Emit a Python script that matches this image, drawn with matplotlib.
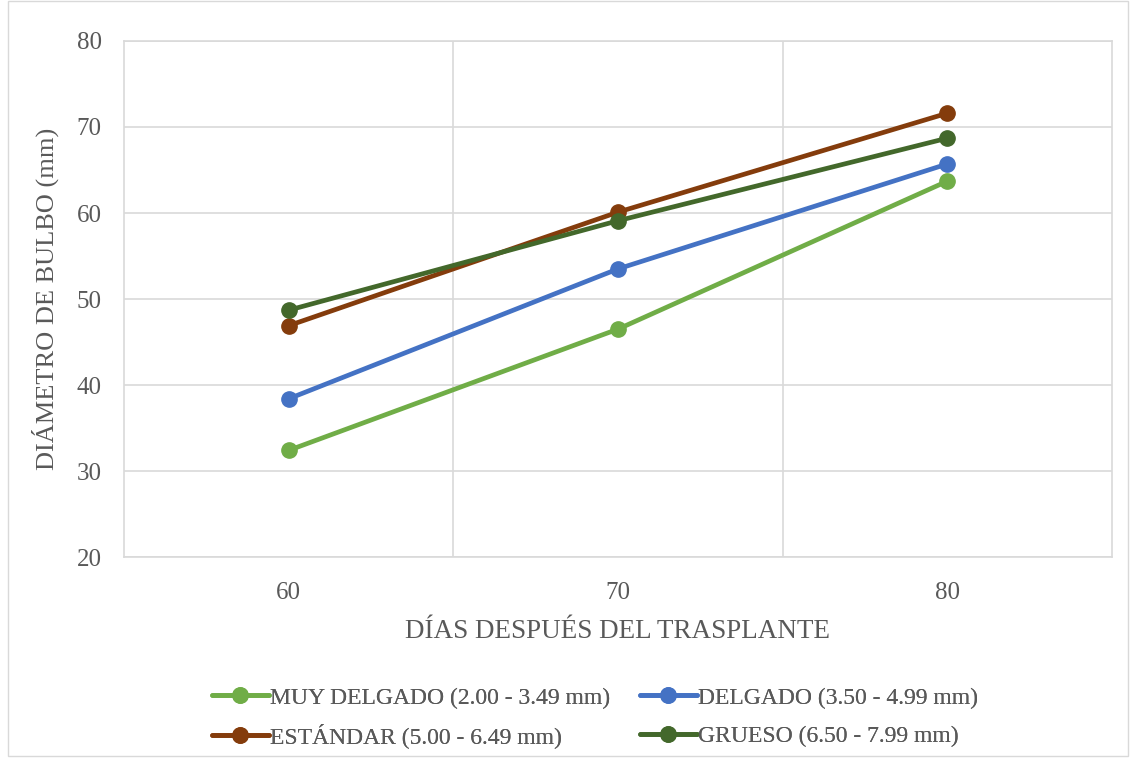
import matplotlib
matplotlib.use('Agg')
import matplotlib.pyplot as plt
import matplotlib.patches as mpatches

plt.rc('font', family='Liberation Serif')

days = ['60', '70', '80']
muy_delgado = [32.4, 46.5, 63.7]
delgado = [38.4, 53.5, 65.7]
estandar = [46.9, 60.1, 71.6]
grueso = [48.7, 59.1, 68.7]

labels = ['MUY DELGADO (2.00 - 3.49 mm)', 'DELGADO (3.50 - 4.99 mm)',
          'ESTÁNDAR (5.00 - 6.49 mm)', 'GRUESO (6.50 - 7.99 mm)']
series = [muy_delgado, delgado, estandar, grueso]
colors = ['#70AD47', '#4472C4', '#843C0C', '#43682B']
text_color = '#595959'
grid_color = '#D9D9D9'

fig = plt.figure(figsize=(11.31, 7.59), dpi=100)
fig.patches.append(mpatches.Rectangle((0.007, 0.004), 0.99, 0.995, transform=fig.transFigure,
                                      fill=False, edgecolor=grid_color, linewidth=1))
ax = fig.add_axes([0.1096, 0.2661, 0.8736, 0.6799])

x = list(range(len(days)))
lines = []
for i in range(len(series)):
    ln, = ax.plot(x, series[i], color=colors[i], linewidth=3.4, marker='o', markersize=11,
                  label=labels[i], zorder=3, solid_capstyle='round')
    lines.append(ln)

ax.set_xlim(-0.5, 2.5)
ax.set_ylim(20, 80)
ax.set_yticks(range(20, 81, 10))
ax.set_xticks(x)
ax.set_xticklabels(days)
ax.set_xticks([0.5, 1.5], minor=True)
ax.grid(True, axis='y', color=grid_color, linewidth=1.2)
ax.grid(True, axis='x', which='minor', color=grid_color, linewidth=1.2)
ax.set_axisbelow(True)
for s in ax.spines.values():
    s.set_color(grid_color)
    s.set_linewidth(1.2)
ax.tick_params(which='both', length=0, labelsize=18, colors=text_color)
ax.tick_params(axis='x', pad=18)
ax.tick_params(axis='y', pad=16)

ax.set_xlabel('DÍAS DESPUÉS DEL TRASPLANTE', fontsize=19.5, color=text_color, labelpad=11)
ax.set_ylabel('DIÁMETRO DE BULBO (mm)', fontsize=19, color=text_color, labelpad=13)

# one legend per entry so that both rows line up like the original
spots = [(0.1874, 0.0805), (0.5659, 0.0805), (0.1874, 0.0303), (0.5659, 0.0303)]
for i in range(len(lines)):
    leg = fig.legend([lines[i]], [labels[i]], loc='center left', bbox_to_anchor=spots[i],
                     frameon=False, fontsize=17, handlelength=2.4, handletextpad=0.05,
                     borderpad=0, borderaxespad=0, labelcolor=text_color)
    fig.add_artist(leg)

plt.savefig('out.png', dpi=100)
